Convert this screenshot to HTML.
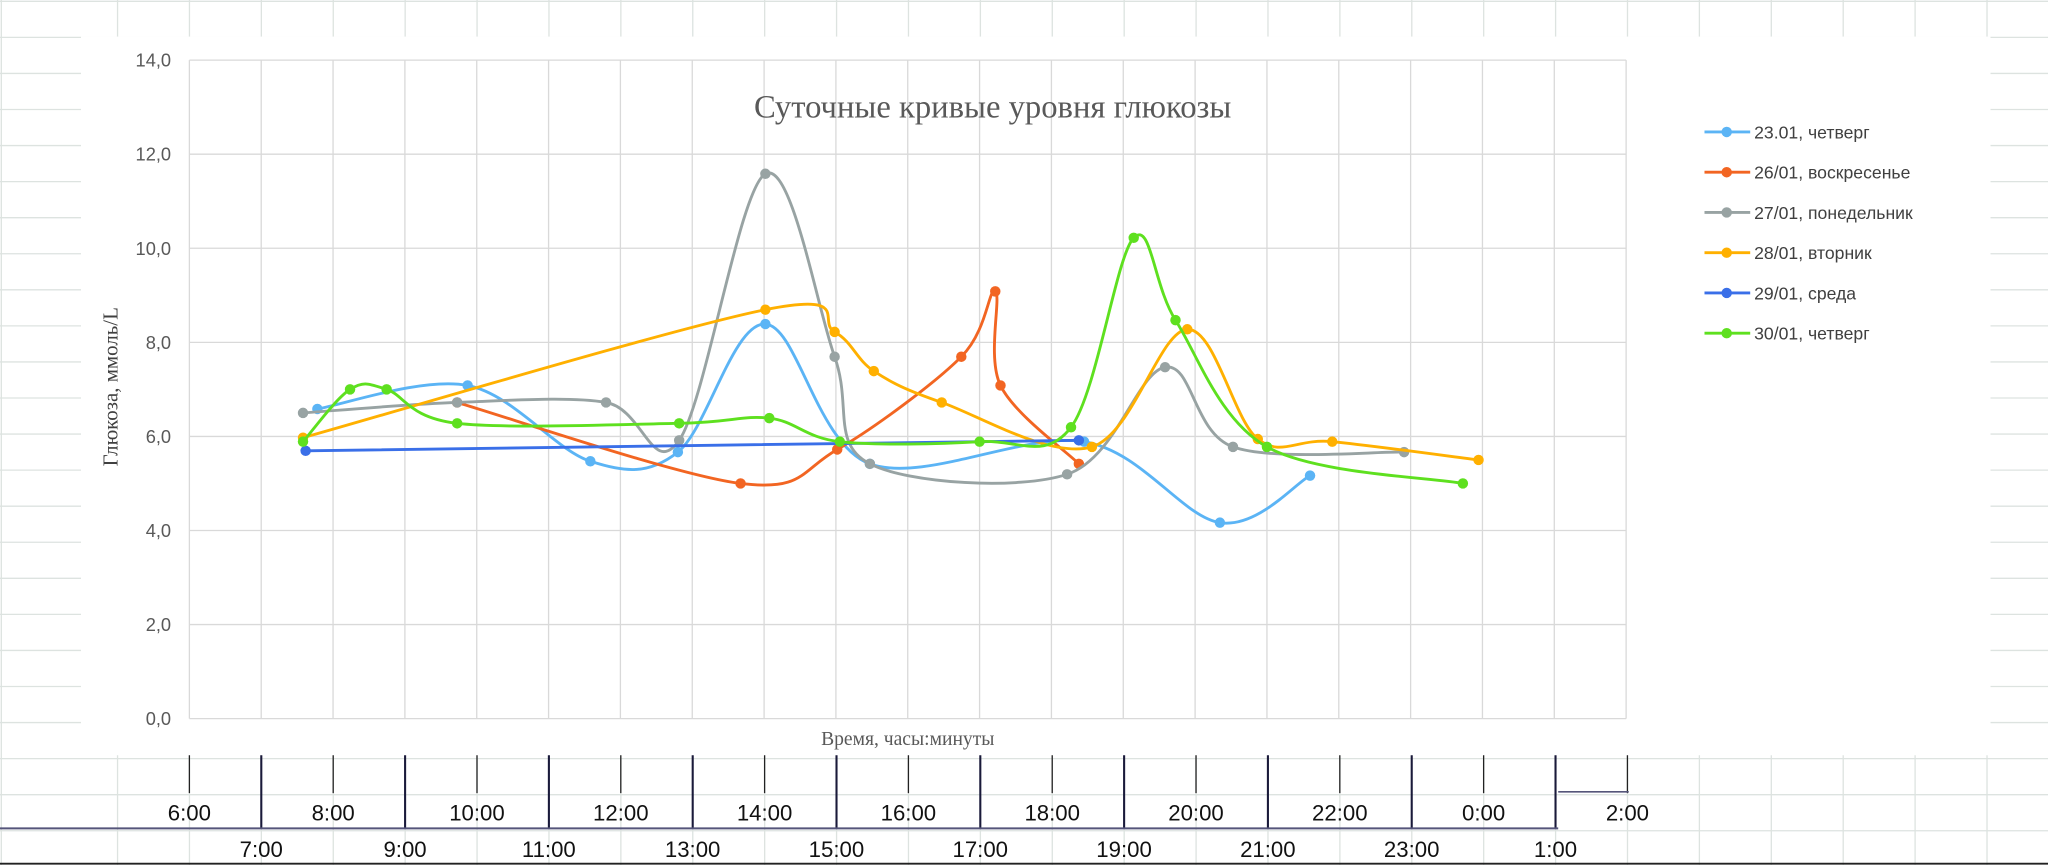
<!DOCTYPE html>
<html><head><meta charset="utf-8"><style>
html,body{margin:0;padding:0;background:#fff;}
svg{display:block;}
</style></head><body>
<svg id="s" width="2048" height="865" viewBox="0 0 1568 662" preserveAspectRatio="none" xmlns="http://www.w3.org/2000/svg">
<rect width="1568" height="662" fill="#fff"/>
<g id="sheet" stroke="#dde3e0" stroke-width="1"></g>
<rect x="62" y="28" width="1462" height="550" fill="#fff"/>
<g id="grid" stroke="#d9d9d9" stroke-width="1"></g>
<g id="ylab" font-family="Liberation Sans Narrow, Liberation Sans, sans-serif" font-size="14" fill="#595959" text-anchor="end"></g>
<text x="760" y="90" text-anchor="middle" font-family="Liberation Serif, serif" font-size="25" fill="#595959">Суточные кривые уровня глюкозы</text>
<text transform="translate(90,296) rotate(-90)" text-anchor="middle" font-family="Liberation Serif, serif" font-size="16" fill="#404040">Глюкоза, ммоль/L</text>
<text x="695" y="570" text-anchor="middle" font-family="Liberation Serif, serif" font-size="15" fill="#595959">Время, часы:минуты</text>
<g id="series"></g>
<g id="legend" font-family="Liberation Sans, sans-serif" font-size="13.5" fill="#404040"></g>
<g id="bottom"></g>
</svg>
<script>
var NS="http://www.w3.org/2000/svg";
function el(p,t,a,txt){var e=document.createElementNS(NS,t);for(var k in a)e.setAttribute(k,a[k]);if(txt)e.textContent=txt;document.getElementById(p).appendChild(e);return e;}
for(var y=1;y<662;y+=27.6){el("sheet","line",{x1:0,x2:1568,y1:y,y2:y});}
for(var x=90;x<1568;x+=55.05){el("sheet","line",{x1:x,x2:x,y1:0,y2:662});}
el("sheet","line",{x1:1,x2:1,y1:0,y2:662});
for(var i=0;i<=20;i++){var gx=145+i*55;el("grid","line",{x1:gx,x2:gx,y1:46,y2:550});}
for(var j=0;j<=7;j++){var gy=550-j*72;el("grid","line",{x1:145,x2:1245,y1:gy,y2:gy});
 el("ylab","text",{x:131,y:gy+5},(j*2)+",0");}
function cr(p){var d="M"+p[0][0]+","+p[0][1];for(var i=0;i<p.length-1;i++){var p0=p[i-1]||p[i],p1=p[i],p2=p[i+1],p3=p[i+2]||p2;var t=1/6;
d+=" C"+(p1[0]+(p2[0]-p0[0])*t)+","+(p1[1]+(p2[1]-p0[1])*t)+" "+(p2[0]-(p3[0]-p1[0])*t)+","+(p2[1]-(p3[1]-p1[1])*t)+" "+p2[0]+","+p2[1];}return d;}
var S=[
["#5bb4f5","23.01, четверг",[[243,313],[358,295],[452,353],[519,346],[586,248],[666,355],[830,338],[934,400],[1003,364]]],
["#f26522","26/01, воскресенье",[[350,308],[567,370],[641,344],[736,273],[762,223],[766,295],[826,355]]],
["#98a3a3","27/01, понедельник",[[232,316],[350,308],[464,308],[520,337],[586,133],[639,273],[666,355],[817,363],[892,281],[944,342],[1075,346]]],
["#ffb000","28/01, вторник",[[232,335],[586,237],[639,254],[669,284],[721,308],[836,342],[909,252],[963,336],[1020,338],[1132,352]]],
["#3a6fe8","29/01, среда",[[234,345],[826,337]]],
["#5ee01f","30/01, четверг",[[232,338],[268,298],[296,298],[350,324],[520,324],[589,320],[643,338],[750,338],[820,327],[868,182],[900,245],[970,342],[1120,370]]]
];
S.forEach(function(s,k){el("series","path",{d:cr(s[2]),fill:"none",stroke:s[0],"stroke-width":2.2});
 s[2].forEach(function(p){el("series","circle",{cx:p[0],cy:p[1],r:4,fill:s[0]});});
 var ly=101+k*30.8;el("legend","line",{x1:1305,x2:1340,y1:ly,y2:ly,stroke:s[0],"stroke-width":2.2});
 el("legend","circle",{cx:1322,cy:ly,r:4,fill:s[0]});el("legend","text",{x:1343,y:ly+5},s[1]);});
var b="bottom";
for(var i=0;i<=20;i++){var x=145+i*55.05;var odd=i%2==1;
 el(b,"line",{x1:x,x2:x,y1:578,y2:odd?634:607,stroke:odd?"#1a1a3a":"#222","stroke-width":odd?1.6:1});}
el(b,"line",{x1:0,x2:1193,y1:634,y2:634,stroke:"#55557a","stroke-width":1.5});
el(b,"line",{x1:0,x2:1568,y1:661,y2:661,stroke:"#222","stroke-width":1.5});
el(b,"line",{x1:1193,x2:1247,y1:606,y2:606,stroke:"#55557a","stroke-width":1.3});
var topL=["6:00","8:00","10:00","12:00","14:00","16:00","18:00","20:00","22:00","0:00","2:00"];
var botL=["7:00","9:00","11:00","13:00","15:00","17:00","19:00","21:00","23:00","1:00"];
topL.forEach(function(t,i){el(b,"text",{x:145+i*110.1,y:628,"text-anchor":"middle","font-family":"Liberation Sans Narrow, Liberation Sans, sans-serif","font-size":17,fill:"#111"},t);});
botL.forEach(function(t,i){el(b,"text",{x:200+i*110.1,y:656,"text-anchor":"middle","font-family":"Liberation Sans Narrow, Liberation Sans, sans-serif","font-size":17,fill:"#111"},t);});
</script>
</body></html>
